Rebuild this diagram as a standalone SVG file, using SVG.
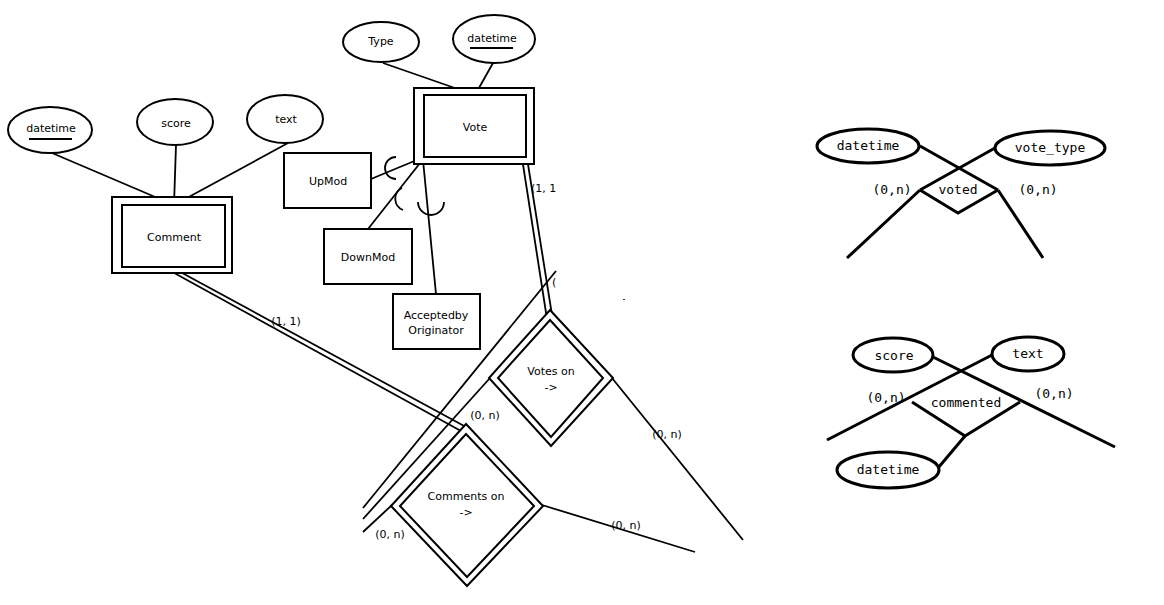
<svg xmlns="http://www.w3.org/2000/svg" width="1164" height="605" viewBox="0 0 1164 605">
<style>
.t{font-family:"DejaVu Sans",Verdana,sans-serif;font-size:11px;fill:#000;text-anchor:middle;dominant-baseline:central}
.m{font-family:"DejaVu Sans Mono","Liberation Mono",monospace;font-size:13px;fill:#000;text-anchor:middle;dominant-baseline:central}
.b{fill:#fff;stroke:#000;stroke-width:2}
.l{fill:none;stroke:#000;stroke-width:1.8}
.k{fill:#fff;stroke:#000;stroke-width:3}
.kl{fill:none;stroke:#000;stroke-width:3}
</style>
<rect width="1164" height="605" fill="#fff"/>
<g id="connectors">
<line class="l" x1="383" y1="63" x2="475" y2="95"/>
<line class="l" x1="493" y1="63" x2="475" y2="95"/>
<line class="l" x1="52" y1="153" x2="174" y2="205"/>
<line class="l" x1="176" y1="145" x2="174" y2="205"/>
<line class="l" x1="288" y1="143" x2="174" y2="205"/>
<line class="l" x1="371" y1="179" x2="424" y2="157"/>
<line class="l" x1="368" y1="229" x2="424" y2="158"/>
<line class="l" x1="423" y1="160" x2="436" y2="294"/>
<path class="l" d="M396 157 A11 11 0 0 0 396 179"/>
<path class="l" d="M402 188 A12 12 0 0 0 403 210"/>
<path class="l" d="M418 202 A13 13 0 0 0 444 202"/>
<line class="l" x1="522" y1="158" x2="547" y2="319"/>
<line class="l" x1="527" y1="158" x2="552" y2="315"/>
<line class="l" x1="167" y1="269" x2="461" y2="431"/>
<line class="l" x1="173" y1="268" x2="466" y2="427"/>
<line class="l" x1="363" y1="508" x2="556" y2="271"/>
<line class="l" x1="363" y1="519" x2="490" y2="378"/>
<line class="l" x1="363" y1="532" x2="392" y2="505"/>
<line class="l" x1="612" y1="378" x2="743" y2="540"/>
<line class="l" x1="542" y1="505" x2="695" y2="552"/>
<text class="t" x="286" y="321">(1, 1)</text>
<text class="t" x="531" y="188" style="text-anchor:start">(1, 1</text>
<text class="t" x="552" y="282" style="text-anchor:start">(</text>
<rect x="623" y="299" width="2" height="1" fill="#444"/>
<text class="t" x="485" y="415">(0, n)</text>
<text class="t" x="390" y="534">(0, n)</text>
<text class="t" x="667" y="434">(0, n)</text>
<text class="t" x="626" y="525">(0, n)</text>
</g>
<g id="vote">
<rect class="b" x="414" y="88" width="120" height="76"/>
<rect class="b" x="424" y="95" width="102" height="62"/>
<text class="t" x="475" y="127">Vote</text>
</g>
<g id="vote-type">
<ellipse class="b" cx="381" cy="42" rx="38" ry="20"/>
<text class="t" x="381" y="41">Type</text>
</g>
<g id="vote-datetime">
<ellipse class="b" cx="494" cy="39" rx="41" ry="24"/>
<text class="t" x="492" y="38">datetime</text>
<line x1="470" y1="48" x2="513" y2="48" stroke="#000" stroke-width="2"/>
</g>
<g id="comment">
<rect class="b" x="112" y="197" width="120" height="76"/>
<rect class="b" x="122" y="205" width="103" height="62"/>
<text class="t" x="174" y="237">Comment</text>
</g>
<g id="comment-datetime">
<ellipse class="b" cx="50" cy="130" rx="42" ry="23"/>
<text class="t" x="51" y="128">datetime</text>
<line x1="29" y1="139" x2="72" y2="139" stroke="#000" stroke-width="2"/>
</g>
<g id="comment-score">
<ellipse class="b" cx="175" cy="122" rx="38" ry="23"/>
<text class="t" x="176" y="123">score</text>
</g>
<g id="comment-text">
<ellipse class="b" cx="285" cy="119" rx="38" ry="24"/>
<text class="t" x="286" y="119">text</text>
</g>
<g id="upmod">
<rect class="b" x="284" y="153" width="87" height="55"/>
<text class="t" x="328" y="181">UpMod</text>
</g>
<g id="downmod">
<rect class="b" x="324" y="229" width="88" height="55"/>
<text class="t" x="368" y="257">DownMod</text>
</g>
<g id="accepted">
<rect class="b" x="393" y="294" width="87" height="55"/>
<text class="t" x="436" y="315">Acceptedby</text>
<text class="t" x="436" y="330">Originator</text>
</g>
<g id="votes-on">
<polygon class="b" points="550,310 613,378 551,446 489,378"/>
<polygon class="b" points="550,320 603,378 551,437 498,378"/>
<text class="t" x="551" y="371">Votes on</text>
<text class="t" x="551" y="387">-&gt;</text>
</g>
<g id="comments-on">
<polygon class="b" points="466,424 543,506 467,586 391,506"/>
<polygon class="b" points="466,434 534,506 467,577 400,506"/>
<text class="t" x="466" y="496">Comments on</text>
<text class="t" x="466" y="512">-&gt;</text>
</g>
<g id="voted">
<line class="kl" x1="920" y1="146" x2="998" y2="190"/>
<line class="kl" x1="995" y1="148" x2="920" y2="190"/>
<polyline class="kl" points="920,190 958,213 998,190"/>
<line class="kl" x1="920" y1="190" x2="847" y2="258"/>
<line class="kl" x1="998" y1="190" x2="1043" y2="258"/>
<ellipse class="k" cx="868" cy="146" rx="51" ry="17"/>
<text class="m" x="868" y="145">datetime</text>
<ellipse class="k" cx="1050" cy="148" rx="55" ry="17"/>
<text class="m" x="1050" y="147">vote_type</text>
<text class="m" x="958" y="189">voted</text>
<text class="m" x="892" y="189">(0,n)</text>
<text class="m" x="1038" y="189">(0,n)</text>
</g>
<g id="commented">
<line class="kl" x1="933" y1="357" x2="1115" y2="447"/>
<line class="kl" x1="992" y1="355" x2="827" y2="440"/>
<polyline class="kl" points="912,402 965,436 1020,402"/>
<line class="kl" x1="965" y1="436" x2="938" y2="468"/>
<ellipse class="k" cx="893" cy="355" rx="40" ry="17"/>
<text class="m" x="894" y="355">score</text>
<ellipse class="k" cx="1028" cy="354" rx="36" ry="17"/>
<text class="m" x="1028" y="353">text</text>
<ellipse class="k" cx="888" cy="470" rx="51" ry="18"/>
<text class="m" x="888" y="469">datetime</text>
<text class="m" x="966" y="402">commented</text>
<text class="m" x="886" y="397">(0,n)</text>
<text class="m" x="1054" y="393">(0,n)</text>
</g>
</svg>
